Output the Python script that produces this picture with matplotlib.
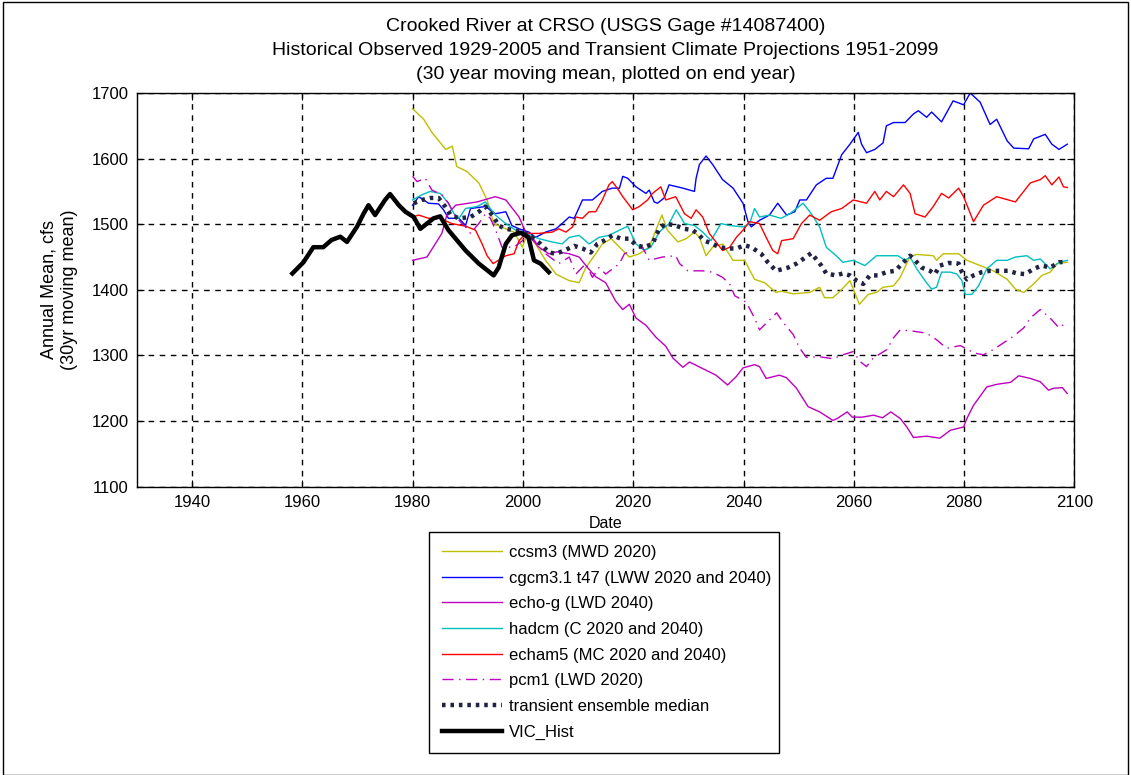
import matplotlib
matplotlib.use("Agg")
import matplotlib.pyplot as plt
from matplotlib.patches import Rectangle

plt.rcParams['font.family'] = ['Liberation Sans', 'DejaVu Sans']

# ---- data ----
vic_years = [1958.2, 1960.2, 1962, 1963.8, 1965.3, 1966.9, 1968.1, 1969.9, 1971.1, 1972,
             1973.2, 1975, 1975.9, 1977.5, 1978.7, 1980.2, 1981.4, 1982.6, 1983.8, 1985,
             1986.5, 1989.6, 1992, 1994.7, 1995.6, 1996.9, 1998, 1999.6, 2001, 2002,
             2003.2, 2004.7]
vic_vals = [1425, 1442, 1465, 1465, 1476, 1481, 1473, 1496, 1516, 1529,
            1514, 1537, 1546, 1529, 1519, 1511, 1493, 1501, 1509, 1512,
            1491, 1460, 1440, 1422, 1434, 1470, 1483, 1487, 1480, 1445,
            1440, 1427]

ccsm3_years = [1980, 1982, 1983.5, 1986, 1987.2, 1988, 1989.9, 1992, 1993.5, 1994.7,
               1996.9, 1998.4, 1999.9, 2000.8, 2002.3, 2004.1, 2006, 2008.4, 2010.2, 2011.4,
               2013.2, 2014.4, 2016, 2017.5, 2019.3, 2021.1, 2022.9, 2024.1, 2025.2, 2026.2,
               2028.1, 2029.6, 2031.1, 2032, 2033.2, 2034.4, 2036.2, 2038.1, 2040.2, 2042,
               2043.8, 2045.9, 2046.8, 2049, 2052, 2053.8, 2054.7, 2056.2, 2057.5, 2059.3,
               2061, 2062.6, 2064.1, 2065.3, 2067.2, 2068.4, 2070.2, 2071.4, 2074.4, 2075,
               2076.2, 2079, 2080.5, 2082.9, 2085.3, 2087.8, 2089.3, 2090.8, 2092.6, 2094.1,
               2095.6, 2096.9, 2098.7]
ccsm3_vals = [1676, 1660, 1640, 1614, 1619, 1588, 1580, 1563, 1537, 1501,
              1493, 1488, 1465, 1486, 1470, 1445, 1424, 1414, 1411, 1434,
              1455, 1470, 1478, 1465, 1450, 1455, 1465, 1491, 1514, 1491,
              1473, 1478, 1488, 1480, 1452, 1465, 1470, 1445, 1445, 1416,
              1411, 1396, 1398, 1394, 1396, 1404, 1388, 1388, 1398, 1414,
              1378, 1393, 1396, 1404, 1406, 1419, 1451, 1454, 1452, 1445,
              1455, 1455, 1445, 1437, 1429, 1416, 1401, 1396, 1409, 1422,
              1427, 1440, 1442]

cgcm_years = [1980, 1981.1, 1982.9, 1984.7, 1985.6, 1986.5, 1988.4, 1989.6, 1990.5, 1993.2,
              1995, 1996.9, 1998, 1999.3, 2001.1, 2002.3, 2004.1, 2006, 2007.1, 2008.4,
              2009.3, 2010.8, 2012.6, 2014.4, 2016.2, 2017.5, 2018.1, 2019, 2020.5, 2022.3,
              2022.9, 2023.8, 2024.4, 2025.6, 2026.5, 2029, 2031.1, 2031.4, 2032, 2033.2,
              2034.4, 2036.2, 2038.1, 2039.9, 2040.8, 2041.4, 2042.9, 2044.7, 2046.2, 2047.8,
              2049.3, 2050.2, 2051.4, 2053.2, 2055, 2056.2, 2057.8, 2059.3, 2060.8, 2061.4,
              2062.3, 2063.8, 2065.3, 2065.9, 2067.2, 2069.3, 2070.8, 2071.7, 2073.2, 2074.1,
              2075.9, 2078, 2079.9, 2081.1, 2082.9, 2084.7, 2085.9, 2087.8, 2089, 2091.7,
              2092.6, 2094.7, 2095.9, 2097.2, 2098.7]
cgcm_vals = [1529, 1542, 1532, 1531, 1522, 1509, 1509, 1498, 1524, 1527,
             1516, 1519, 1498, 1493, 1488, 1480, 1488, 1493, 1501, 1511,
             1509, 1537, 1537, 1550, 1555, 1555, 1573, 1570, 1557, 1547,
             1552, 1534, 1532, 1540, 1560, 1555, 1550, 1570, 1591, 1604,
             1591, 1568, 1555, 1532, 1504, 1496, 1506, 1514, 1532, 1514,
             1519, 1537, 1537, 1560, 1570, 1570, 1606, 1622, 1640, 1622,
             1609, 1614, 1624, 1650, 1655, 1655, 1668, 1673, 1663, 1671,
             1656, 1688, 1682, 1700, 1686, 1652, 1660, 1627, 1616, 1615,
             1630, 1637, 1622, 1614, 1622]

echo_years = [1980, 1982.6, 1985.3, 1986.2, 1987.8, 1991.7, 1995, 1996.9, 1999.3, 2000.5,
              2002.9, 2004.7, 2006.2, 2008.4, 2010.2, 2011.7, 2013.2, 2015, 2016.8, 2018.1,
              2019.3, 2020.5, 2022.3, 2024.1, 2025.9, 2027.2, 2029, 2030.2, 2032.6, 2035,
              2037.1, 2038.7, 2039.9, 2042, 2042.9, 2044.1, 2046.5, 2047.8, 2049.6, 2051.7,
              2053.8, 2056.2, 2057, 2058.8, 2059.7, 2061.5, 2063.6, 2065.2, 2066.7, 2068.4,
              2069.6, 2070.8, 2073.2, 2075.6, 2077.5, 2079.9, 2080.5, 2081.7, 2084.1, 2085.9,
              2088.4, 2089.9, 2092, 2093.8, 2095.3, 2096.2, 2097.8, 2098.7]
echo_vals = [1445, 1450, 1486, 1514, 1529, 1534, 1542, 1537, 1511, 1488,
             1465, 1455, 1458, 1455, 1450, 1434, 1420, 1411, 1383, 1370,
             1378, 1357, 1346, 1328, 1314, 1296, 1282, 1290, 1280, 1270,
             1255, 1268, 1281, 1286, 1283, 1265, 1270, 1266, 1250, 1222,
             1214, 1201, 1204, 1214, 1206, 1206, 1209, 1205, 1214, 1204,
             1191, 1175, 1177, 1174, 1186, 1191, 1204, 1224, 1252, 1256,
             1259, 1269, 1265, 1260, 1247, 1250, 1251, 1242]

hadcm_years = [1980, 1981.7, 1983.2, 1985, 1986.5, 1987.5, 1988.4, 1989.6, 1991.7, 1993.2,
               1995, 1996.9, 1998.7, 2000.5, 2002.9, 2005.3, 2007.1, 2008.4, 2010.2, 2012,
               2013.8, 2015.6, 2017.5, 2019, 2020.5, 2022, 2023.2, 2024.7, 2026.5, 2027.8,
               2029.3, 2031.1, 2032.6, 2034.1, 2035.9, 2037.5, 2039.9, 2041.1, 2042, 2042.9,
               2044.7, 2046.8, 2048.4, 2050.8, 2052.3, 2053.8, 2055, 2056.8, 2058, 2059.9,
               2062, 2064.1, 2066.2, 2068, 2069.3, 2070.2, 2071.4, 2072.9, 2074.1, 2075,
               2075.9, 2077.5, 2078.7, 2079.6, 2080.2, 2081.4, 2082.6, 2084.1, 2085.9, 2087.8,
               2089.3, 2091.4, 2092.6, 2093.8, 2095.6, 2097.2, 2098.7]
hadcm_vals = [1537, 1545, 1550, 1547, 1532, 1516, 1509, 1524, 1527, 1534,
              1514, 1501, 1491, 1486, 1478, 1473, 1470, 1480, 1483, 1470,
              1480, 1483, 1491, 1497, 1470, 1460, 1465, 1488, 1501, 1522,
              1501, 1498, 1488, 1475, 1501, 1498, 1496, 1501, 1524, 1511,
              1514, 1509, 1516, 1532, 1516, 1496, 1465, 1452, 1442, 1445,
              1437, 1452, 1452, 1452, 1445, 1450, 1432, 1414, 1401, 1404,
              1427, 1427, 1424, 1414, 1393, 1393, 1406, 1432, 1445, 1445,
              1450, 1452, 1445, 1447, 1432, 1442, 1445]

echam_years = [1980, 1981.1, 1982.9, 1984.7, 1987.1, 1989.6, 1991.4, 1992.6, 1993.5, 1994.6,
               1996.9, 1998.4, 1999.3, 2000.5, 2002.9, 2005.3, 2006.5, 2007.8, 2009, 2009.6,
               2010.8, 2012, 2013.2, 2014.4, 2015.6, 2016.2, 2017.1, 2018.1, 2019.9, 2021.1,
               2022.6, 2023.5, 2025, 2025.9, 2027.7, 2029.3, 2030.5, 2031.4, 2032.6, 2033.8,
               2035, 2036.2, 2037.5, 2038.7, 2039.9, 2041.1, 2042.9, 2044.1, 2045.3, 2046.2,
               2046.9, 2049, 2050.5, 2052, 2053.8, 2055.9, 2057.8, 2059.9, 2062.3, 2063.8,
               2064.7, 2065.9, 2067.2, 2069, 2070.2, 2071.1, 2072.9, 2074.4, 2075.9, 2077.2,
               2079, 2079.9, 2081.7, 2083.5, 2085.9, 2089.3, 2092, 2093.8, 2094.7, 2095.9,
               2097.2, 2098, 2098.7]
echam_vals = [1511, 1514, 1509, 1510, 1501, 1497, 1491, 1470, 1452, 1440,
              1452, 1455, 1475, 1486, 1486, 1488, 1493, 1488, 1496, 1511,
              1509, 1519, 1519, 1537, 1560, 1565, 1555, 1542, 1522, 1527,
              1537, 1547, 1557, 1537, 1542, 1516, 1509, 1522, 1511, 1486,
              1473, 1460, 1465, 1480, 1491, 1504, 1501, 1480, 1460, 1455,
              1475, 1478, 1501, 1514, 1506, 1519, 1524, 1537, 1532, 1550,
              1537, 1550, 1542, 1560, 1547, 1516, 1511, 1527, 1547, 1540,
              1555, 1542, 1504, 1529, 1542, 1534, 1563, 1568, 1574, 1560,
              1572, 1557, 1556]

pcm_years = [1980, 1980.8, 1982.3, 1983.5, 1985.3, 1986.5, 1987.8, 1989.6, 1990.5, 1992,
             1993.2, 1994.1, 1995.3, 1996.2, 1998.4, 1999.9, 2001.1, 2002.9, 2004.1, 2006.5,
             2008.4, 2009.6, 2011.4, 2012.6, 2013.8, 2015, 2017.5, 2018.4, 2021.7, 2022.9,
             2025.3, 2027.7, 2028.4, 2029.9, 2032.6, 2034.4, 2036.2, 2037.5, 2038.4, 2040.5,
             2042, 2042.9, 2046, 2047.2, 2049, 2050.2, 2051.4, 2053.8, 2056.2, 2058,
             2059.9, 2061.1, 2062.3, 2063.5, 2066, 2067.2, 2068.4, 2070.8, 2073.2, 2075,
             2076.8, 2079.3, 2080.5, 2081.7, 2083.5, 2085.3, 2087.1, 2088.9, 2090.8, 2092,
             2093.8, 2095.6, 2097.2, 2098.7]
pcm_vals = [1573, 1565, 1570, 1552, 1545, 1532, 1511, 1496, 1486, 1501,
            1516, 1509, 1486, 1465, 1465, 1475, 1488, 1465, 1455, 1440,
            1450, 1424, 1440, 1419, 1434, 1424, 1440, 1455, 1465, 1445,
            1450, 1452, 1440, 1429, 1429, 1427, 1419, 1409, 1391, 1381,
            1357, 1339, 1365, 1350, 1332, 1311, 1297, 1298, 1295, 1301,
            1306, 1291, 1283, 1296, 1309, 1327, 1339, 1337, 1334, 1324,
            1311, 1315, 1310, 1304, 1301, 1309, 1319, 1329, 1342, 1357,
            1370, 1357, 1342, 1351]

med_years = [1980.2, 1981.7, 1983.2, 1984.7, 1985.9, 1986.9, 1988.4, 1990.5, 1992, 1993.2,
             1994.7, 1995.6, 1996.9, 1998.4, 1999.9, 2001.7, 2003.2, 2004.7, 2006, 2007.5,
             2009.3, 2010.8, 2012.3, 2013.5, 2014.7, 2016.2, 2017.8, 2019.3, 2020.5, 2022,
             2023.5, 2024.7, 2025.9, 2027.7, 2029.3, 2030.8, 2032, 2032.9, 2034.4, 2035.6,
             2037.1, 2038.7, 2040.2, 2041.4, 2043.2, 2044.4, 2045.9, 2048.1, 2049.6, 2050.8,
             2052.3, 2054.1, 2055, 2056.8, 2058, 2059.3, 2060.5, 2061.7, 2062.9, 2064.4,
             2065.9, 2067.5, 2069, 2070.2, 2071.1, 2072.3, 2073.8, 2074.7, 2075.6, 2077.2,
             2079, 2079.6, 2080.5, 2081.7, 2083.2, 2084.7, 2086.5, 2088, 2089.6, 2091.1,
             2092.6, 2094.1, 2095.6, 2097.2, 2098.7]
med_vals = [1532, 1537, 1540, 1540, 1527, 1514, 1509, 1511, 1519, 1527,
            1511, 1498, 1493, 1491, 1488, 1480, 1470, 1457, 1455, 1460,
            1467, 1463, 1457, 1470, 1475, 1483, 1478, 1478, 1468, 1465,
            1470, 1493, 1501, 1498, 1493, 1491, 1483, 1475, 1470, 1465,
            1463, 1463, 1468, 1465, 1455, 1442, 1429, 1434, 1440, 1447,
            1456, 1437, 1425, 1422, 1425, 1422, 1414, 1409, 1422, 1422,
            1427, 1429, 1442, 1452, 1445, 1434, 1429, 1424, 1437, 1441,
            1440, 1427, 1416, 1422, 1427, 1429, 1429, 1429, 1425, 1424,
            1432, 1437, 1434, 1442, 1443]

x_ticks = [1940, 1960, 1980, 2000, 2020, 2040, 2060, 2080, 2100]
y_ticks = [1100, 1200, 1300, 1400, 1500, 1600, 1700]


def main():
    fig = plt.figure(figsize=(11.31, 7.75), dpi=100)
    ax = fig.add_axes([0.121, 0.372, 0.829, 0.508])

    ax.plot(ccsm3_years, ccsm3_vals, color='#bfbf00', lw=1, label='ccsm3 (MWD 2020)')
    ax.plot(cgcm_years, cgcm_vals, color='#0000ff', lw=1, label='cgcm3.1 t47 (LWW 2020 and 2040)')
    ax.plot(echo_years, echo_vals, color='#bf00bf', lw=1, label='echo-g (LWD 2040)')
    ax.plot(hadcm_years, hadcm_vals, color='#00bfbf', lw=1, label='hadcm (C 2020 and 2040)')
    ax.plot(echam_years, echam_vals, color='#ff0000', lw=1, label='echam5 (MC 2020 and 2040)')
    ax.plot(pcm_years, pcm_vals, color='#bf00bf', lw=1, ls=(0, (8, 4, 1, 4)), label='pcm1 (LWD 2020)')
    ax.plot(med_years, med_vals, color='#222244', lw=3.2, ls=(0, (0.8, 1.1)), label='transient ensemble median')
    ax.plot(vic_years, vic_vals, color='black', lw=3.2, label='VIC_Hist')

    ax.set_xlim(1930, 2100)
    ax.set_ylim(1100, 1700)
    ax.set_xticks(x_ticks)
    ax.set_yticks(y_ticks)
    ax.tick_params(direction='in', top=True, right=True, labelsize=12, length=5, pad=6)
    ax.grid(True, color='black', ls=(0, (4, 4)), lw=1)
    for s in ax.spines.values():
        s.set_linewidth(1)

    ax.set_xlabel("Date", fontsize=11.5, labelpad=4)
    ax.set_ylabel("Annual Mean, cfs\n(30yr moving mean)", fontsize=13, labelpad=10)
    ax.set_title("Crooked River at CRSO (USGS Gage #14087400)\n"
                 "Historical Observed 1929-2005 and Transient Climate Projections 1951-2099\n"
                 "(30 year moving mean, plotted on end year)",
                 fontsize=14, linespacing=1.55, pad=10)

    leg = ax.legend(loc='upper left', bbox_to_anchor=(0.379, 0.035, 0.31, 0.279),
                    bbox_transform=fig.transFigure, mode='expand', fontsize=12,
                    fancybox=False, edgecolor='black', framealpha=1,
                    handlelength=3.6, handletextpad=0.4, labelspacing=0.64,
                    borderaxespad=0, borderpad=0.8)
    leg.get_frame().set_linewidth(1)

    # outer border like the source document
    fig.patches.append(Rectangle((0.003, 0.0), 0.994, 0.997, transform=fig.transFigure,
                                 fill=False, edgecolor='black', lw=1))

    fig.savefig("out.png", dpi=100)


if __name__ == "__main__":
    main()
